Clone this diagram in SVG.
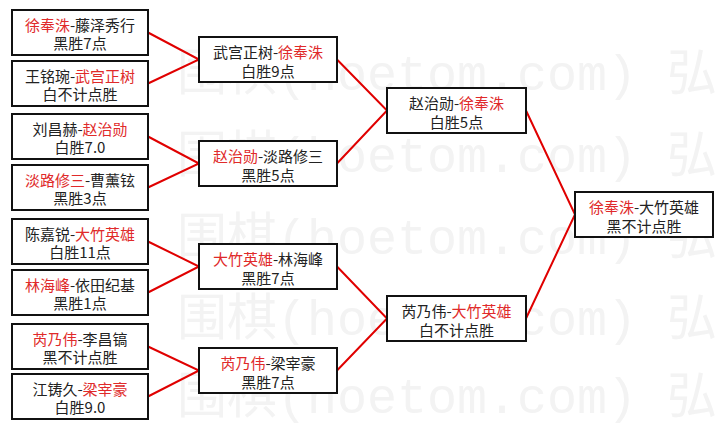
<svg xmlns="http://www.w3.org/2000/svg" width="724" height="429" viewBox="0 0 724 429">
<style>
.wm{font-family:"Liberation Mono","Noto Sans CJK SC",monospace;font-size:50px;fill:#f3f3f3}
.box{fill:#ffffff;stroke:#111111;stroke-width:2}
.t{font-family:"Noto Sans CJK SC","Noto Sans CJK JP",sans-serif;font-size:15px;fill:#222222;text-anchor:middle}
.r{fill:#e02a2a}
.c{stroke:#e00000;stroke-width:2;fill:none}
</style>
<rect width="724" height="429" fill="#ffffff"/>
<g id="watermark">
<text class="wm" x="177" y="90" xml:space="preserve">围棋(hoetom.com) 弘</text>
<text class="wm" x="177" y="172" xml:space="preserve">围棋(hoetom.com) 弘</text>
<text class="wm" x="177" y="254" xml:space="preserve">围棋(hoetom.com) 弘</text>
<text class="wm" x="177" y="335" xml:space="preserve">围棋(hoetom.com) 弘</text>
<text class="wm" x="177" y="413" xml:space="preserve">围棋(hoetom.com) 弘</text>
</g>
<g id="connectors">
<polyline class="c" points="148,32.5 199,59.5 148,83.5"/>
<polyline class="c" points="148,136.5 199,163.5 148,187.5"/>
<polyline class="c" points="148,241.5 199,266.5 148,292.5"/>
<polyline class="c" points="148,346.5 199,370.5 148,396.5"/>
<polyline class="c" points="337,59.5 387,110.5 337,163.5"/>
<polyline class="c" points="337,266.5 387,318.5 337,370.5"/>
<polyline class="c" points="526,110.5 575,214.5 526,318.5"/>
</g>
<g id="n1"><rect class="box" x="12" y="10" width="136" height="45"/><text class="t" x="80" y="30.5"><tspan class="r">徐奉洙</tspan>-藤泽秀行</text><text class="t" x="80" y="49">黑胜7点</text></g>
<g id="n2"><rect class="box" x="12" y="61" width="136" height="45"/><text class="t" x="80" y="81.5">王铭琬-<tspan class="r">武宫正树</tspan></text><text class="t" x="80" y="100">白不计点胜</text></g>
<g id="n3"><rect class="box" x="12" y="114" width="136" height="45"/><text class="t" x="80" y="134.5">刘昌赫-<tspan class="r">赵治勋</tspan></text><text class="t" x="80" y="153">白胜7.0</text></g>
<g id="n4"><rect class="box" x="12" y="165" width="136" height="45"/><text class="t" x="80" y="185.5"><tspan class="r">淡路修三</tspan>-曹薰铉</text><text class="t" x="80" y="204">黑胜3点</text></g>
<g id="n5"><rect class="box" x="12" y="219" width="136" height="45"/><text class="t" x="80" y="239.5">陈嘉锐-<tspan class="r">大竹英雄</tspan></text><text class="t" x="80" y="258">白胜11点</text></g>
<g id="n6"><rect class="box" x="12" y="270" width="136" height="45"/><text class="t" x="80" y="290.5"><tspan class="r">林海峰</tspan>-依田纪基</text><text class="t" x="80" y="309">黑胜1点</text></g>
<g id="n7"><rect class="box" x="12" y="324" width="136" height="45"/><text class="t" x="80" y="344.5"><tspan class="r">芮乃伟</tspan>-李昌镐</text><text class="t" x="80" y="363">黑不计点胜</text></g>
<g id="n8"><rect class="box" x="12" y="374" width="136" height="45"/><text class="t" x="80" y="394.5">江铸久-<tspan class="r">梁宰豪</tspan></text><text class="t" x="80" y="413">白胜9.0</text></g>
<g id="nA"><rect class="box" x="199" y="37" width="138" height="45"/><text class="t" x="268" y="57.5">武宫正树-<tspan class="r">徐奉洙</tspan></text><text class="t" x="268" y="76.5">白胜9点</text></g>
<g id="nB"><rect class="box" x="199" y="141" width="138" height="45"/><text class="t" x="268" y="161.5"><tspan class="r">赵治勋</tspan>-淡路修三</text><text class="t" x="268" y="180.5">黑胜5点</text></g>
<g id="nC"><rect class="box" x="199" y="244" width="138" height="45"/><text class="t" x="268" y="264.5"><tspan class="r">大竹英雄</tspan>-林海峰</text><text class="t" x="268" y="283.5">黑胜7点</text></g>
<g id="nD"><rect class="box" x="199" y="348" width="138" height="45"/><text class="t" x="268" y="368.5"><tspan class="r">芮乃伟</tspan>-梁宰豪</text><text class="t" x="268" y="387.5">黑胜7点</text></g>
<g id="nE"><rect class="box" x="387" y="88" width="139" height="45"/><text class="t" x="456.5" y="108.5">赵治勋-<tspan class="r">徐奉洙</tspan></text><text class="t" x="456.5" y="127.5">白胜5点</text></g>
<g id="nF"><rect class="box" x="387" y="296" width="139" height="45"/><text class="t" x="456.5" y="316.5">芮乃伟-<tspan class="r">大竹英雄</tspan></text><text class="t" x="456.5" y="335.5">白不计点胜</text></g>
<g id="nG"><rect class="box" x="575" y="192" width="138" height="45"/><text class="t" x="644" y="212.5"><tspan class="r">徐奉洙</tspan>-大竹英雄</text><text class="t" x="644" y="231.5">黑不计点胜</text></g>
</svg>
